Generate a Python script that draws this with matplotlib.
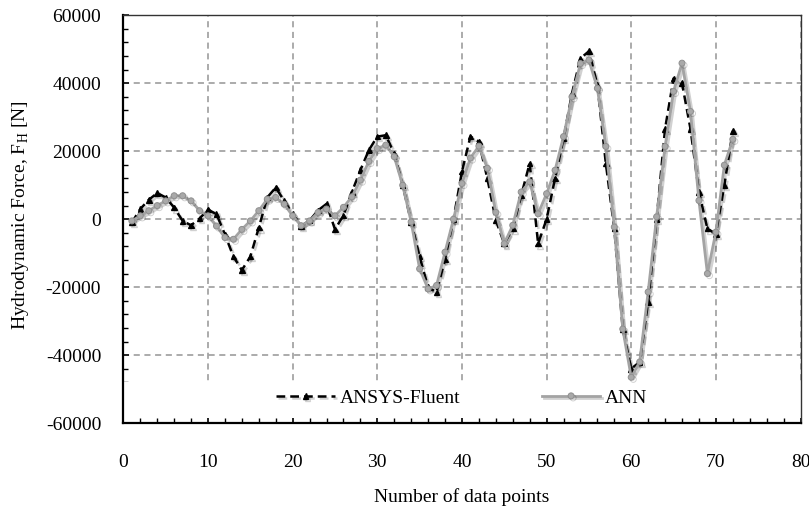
import matplotlib
matplotlib.use("Agg")
import matplotlib.pyplot as plt
import matplotlib.patheffects as pe
from matplotlib.patches import Rectangle
from matplotlib.ticker import MultipleLocator

plt.rcParams['font.family'] = ['Liberation Serif', 'DejaVu Serif']
plt.rcParams['mathtext.fontset'] = 'custom'
plt.rcParams['mathtext.rm'] = 'Liberation Serif'
plt.rcParams['axes.unicode_minus'] = False

# data points 1..72
points = list(range(1, 73))

fluent = [-1000, 3000, 5700, 7700, 6400, 3400, -500, -1800, 200, 2800,
          1500, -4500, -11000, -15000, -11000, -2500, 6400, 9300, 5400, 1500,
          -2000, -400, 2600, 4500, -3000, 1100, 8000, 14400, 20300, 24300,
          24700, 19300, 10000, -800, -11000, -20000, -21500, -11800, 0, 14000,
          24300, 22800, 12000, -300, -7200, -2800, 7000, 16400, -7200, 0,
          12000, 23700, 37000, 47300, 49400, 39500, 16400, -2800, -32300, -44000,
          -42000, -24300, 0, 26600, 41400, 40000, 26600, 8000, -2800, -4300,
          10000, 26000]

ann = [-500, 1000, 2500, 4000, 5400, 6900, 6900, 5400, 2500, 1000,
       -2000, -5400, -5900, -3000, -500, 2500, 5900, 6400, 4400, 1000,
       -1900, -500, 2000, 3000, 1000, 3500, 6600, 11500, 17000, 20800,
       21800, 18400, 10000, -800, -14600, -20500, -19500, -9700, 0, 10500,
       18000, 21500, 15000, 2000, -7200, -1800, 8000, 11000, 1600, 7500,
       14400, 24300, 36000, 45800, 46800, 38500, 21400, -2300, -32300, -46500,
       -42000, -21400, 700, 21400, 37600, 45900, 31700, 5500, -16000, -3800,
       15900, 23500]

fig = plt.figure(figsize=(8.09, 5.08), dpi=100)
ax = fig.add_axes([0.1525, 0.167, 0.837, 0.803])

shadow = [pe.SimpleLineShadow(offset=(1.5, -1.5), shadow_color='k', alpha=0.18), pe.Normal()]

ax.plot(points, fluent, color='black', lw=1.8, ls=(0, (3.5, 2)),
        marker='^', ms=4, mfc='black', mec='black',
        label='ANSYS-Fluent', zorder=3, path_effects=shadow)
ax.plot(points, ann, color='#a3a3a3', lw=2.0, ls='-',
        marker='o', ms=4.3, mfc='#a9a9a9', mec='#8f8f8f', mew=0.7,
        label='ANN', zorder=4, path_effects=shadow)

ax.set_xlim(0, 80)
ax.set_ylim(-60000, 60000)
ax.xaxis.set_major_locator(MultipleLocator(10))
ax.xaxis.set_minor_locator(MultipleLocator(2))
ax.yaxis.set_major_locator(MultipleLocator(20000))
ax.yaxis.set_minor_locator(MultipleLocator(4000))

ax.set_axisbelow(True)
ax.grid(True, which='major', color='#959595', ls=(0, (4, 3)), lw=1.1)
# white strip behind the legend hides the grid there
ax.add_patch(Rectangle((0, 0.012), 1, 0.09, transform=ax.transAxes,
                       facecolor='white', edgecolor='none', zorder=1))

ax.tick_params(which='both', direction='in', labelsize=14, colors='black')
ax.tick_params(which='major', length=4.5, width=1.1)
ax.tick_params(which='minor', length=3.5, width=1.0)
ax.tick_params(axis='x', which='both', pad=22)
ax.tick_params(axis='y', which='both', pad=16)

for side in ['left', 'bottom']:
    ax.spines[side].set_linewidth(1.6)
    ax.spines[side].set_color('black')
for side in ['top', 'right']:
    ax.spines[side].set_linewidth(1.0)
    ax.spines[side].set_color('#333333')

ax.set_xlabel('Number of data points', fontsize=14)
ax.xaxis.set_label_coords(0.5, -0.16)
ax.set_ylabel(r'Hydrodynamic Force, F$_\mathrm{H}$ [N]', fontsize=14)
ax.yaxis.set_label_coords(-0.136, 0.51)

ax.legend(loc='center', bbox_to_anchor=(0.5, 0.062), ncol=2, frameon=False,
          fontsize=14, numpoints=1, handlelength=3.0, handletextpad=0.25,
          columnspacing=4.2)

fig.savefig('out.png', dpi=100)
